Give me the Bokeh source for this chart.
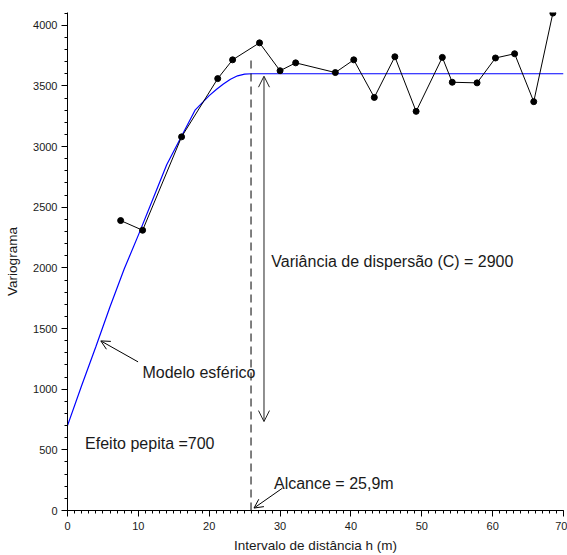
from bokeh.plotting import figure
from bokeh.models import (Range1d, SingleIntervalTicker, Arrow, OpenHead, Label)
from bokeh.embed import file_html
from bokeh.resources import INLINE

# Experimental variogram (lag distance h, variogram value)
lag_h = [7.5, 10.6, 16.1, 21.2, 23.3, 27.1, 30.0, 32.2, 37.8, 40.4, 43.3, 46.2,
         49.2, 52.9, 54.3, 57.8, 60.4, 63.1, 65.8, 68.5]
gamma_exp = [2390, 2310, 3080, 3560, 3715, 3855, 3625, 3690, 3610, 3715, 3405, 3740,
             3290, 3735, 3530, 3525, 3730, 3765, 3370, 4100]

# Spherical model curve
model_h = [0, 2, 4, 6, 8, 10, 12, 14, 16, 18, 20, 21, 22, 23, 24, 25, 26, 70]
model_gamma = [700, 1030, 1350, 1680, 1990, 2270, 2560, 2850, 3075, 3300, 3420, 3470,
               3515, 3555, 3583, 3597, 3600, 3600]

nugget = 700
sill = 3600
range_a = 25.9

x_ticks_interval = 10
y_ticks_interval = 500

FONT = "Liberation Sans"
TXT = "#1a1a1a"

p = figure(width=567, height=555, output_backend="svg", toolbar_location=None,
           x_range=Range1d(0, 70), y_range=Range1d(0, 4105),
           min_border_left=67, min_border_right=4, min_border_top=12, min_border_bottom=44)
p.outline_line_color = None
p.xgrid.visible = False
p.ygrid.visible = False

p.xaxis.ticker = SingleIntervalTicker(interval=x_ticks_interval, num_minor_ticks=10)
p.yaxis.ticker = SingleIntervalTicker(interval=y_ticks_interval, num_minor_ticks=5)
for ax in (p.xaxis, p.yaxis):
    ax.major_tick_in = 0
    ax.major_tick_out = 6
    ax.minor_tick_in = 0
    ax.minor_tick_out = 3
    ax.axis_line_color = "black"
    ax.major_tick_line_color = "black"
    ax.minor_tick_line_color = "black"
    ax.major_label_text_font = FONT
    ax.major_label_text_font_size = "11px"
    ax.major_label_text_color = TXT
    ax.axis_label_text_font = FONT
    ax.axis_label_text_font_size = "13.5px"
    ax.axis_label_text_font_style = "normal"
    ax.axis_label_text_color = TXT
    ax.major_label_standoff = 4
p.xaxis.axis_label = "Intervalo de distância h (m)"
p.yaxis.axis_label = "Variograma"
p.xaxis.major_label_standoff = 5
p.xaxis.axis_label_standoff = 5
p.yaxis.axis_label_standoff = 10

# Model curve
p.line(model_h, model_gamma, line_color="#0000ff", line_width=1.2)

# Experimental variogram
p.line(lag_h, gamma_exp, line_color="black", line_width=1)
p.scatter(lag_h, gamma_exp, size=6, color="black")

# Range dashed line
p.segment(x0=[range_a], y0=[0], x1=[range_a], y1=[3712], line_color="black",
          line_width=1, line_dash="8 5")

# Sill variance double arrow
p.add_layout(Arrow(x_start=27.73, y_start=733, x_end=27.73, y_end=3580,
                   line_color="#222222", line_width=1,
                   start=OpenHead(size=11, line_width=1, line_color="#222222"),
                   end=OpenHead(size=11, line_width=1, line_color="#222222")))

# Model arrow
p.add_layout(Arrow(x_start=9.96, y_start=1225, x_end=4.70, y_end=1398,
                   line_color="black", line_width=1,
                   end=OpenHead(size=9, line_width=1)))

# Range arrow
p.add_layout(Arrow(x_start=30.33, y_start=184, x_end=26.32, y_end=20,
                   line_color="black", line_width=1,
                   end=OpenHead(size=9, line_width=1)))

labels = [
    (28.77, 2051, "Variância de dispersão (C) = 2900"),
    (10.58, 1134, "Modelo esférico"),
    (2.48, 555, "Efeito pepita =700"),
    (29.14, 220, "Alcance = 25,9m"),
]
for x, y, t in labels:
    p.add_layout(Label(x=x, y=y, text=t, text_font=FONT, text_font_size="16px",
                       text_color=TXT, text_baseline="middle", text_align="left"))

open("out.html", "w").write(file_html(p, INLINE))
